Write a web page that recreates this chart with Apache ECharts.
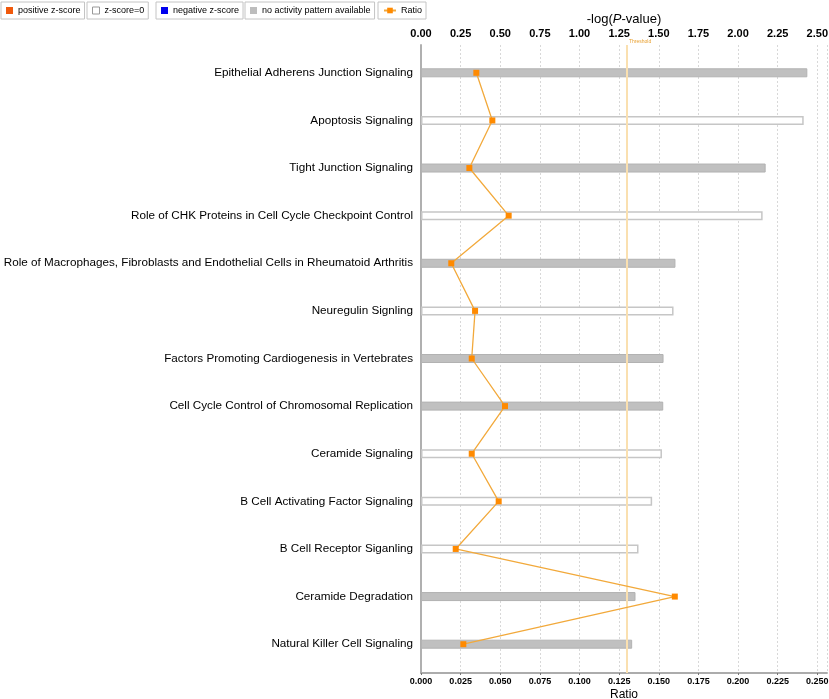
<!DOCTYPE html>
<html>
<head>
<meta charset="utf-8">
<script src="https://cdn.jsdelivr.net/npm/echarts@6/dist/echarts.min.js"></script>
<style>
  html, body { margin: 0; padding: 0; background: #fff; }
  #main { width: 829px; height: 699px; }
</style>
</head>
<body>
<div id="main"></div>
<script>
var myChart = echarts.init(document.getElementById('main'));

// pathways, top to bottom
var categories = [
    'Epithelial Adherens Junction Signaling',
    'Apoptosis Signaling',
    'Tight Junction Signaling',
    'Role of CHK Proteins in Cell Cycle Checkpoint Control',
    'Role of Macrophages, Fibroblasts and Endothelial Cells in Rheumatoid Arthritis',
    'Neuregulin Signling',
    'Factors Promoting Cardiogenesis in Vertebrates',
    'Cell Cycle Control of Chromosomal Replication',
    'Ceramide Signaling',
    'B Cell Activating Factor Signaling',
    'B Cell Receptor Siganling',
    'Ceramide Degradation',
    'Natural Killer Cell Signaling'
];
// -log(p-value)
var logP = [2.437, 2.414, 2.174, 2.155, 1.605, 1.593, 1.530, 1.528, 1.520, 1.458, 1.372, 1.353, 1.332];
// 'none' = no activity pattern available, 'zero' = z-score=0
var zState = ['none', 'zero', 'none', 'zero', 'none', 'zero', 'none', 'none', 'zero', 'zero', 'zero', 'none', 'none'];
var ratio = [0.0349, 0.0450, 0.0305, 0.0553, 0.0191, 0.0341, 0.0320, 0.0530, 0.0320, 0.0490, 0.0219, 0.1601, 0.0267];
var threshold = 1.3;

var logMax = 2.561, ratioMax = 0.2561;
var FONT = 'Liberation Sans';

var zeroData = [], noneData = [];
for (var i = 0; i < logP.length; i++) {
    zeroData.push(zState[i] === 'zero' ? logP[i] : '-');
    noneData.push(zState[i] === 'none' ? logP[i] : '-');
}

function legendBox(name, left, icon, style, extra) {
    var lg = {
        data: [{ name: name, icon: icon, itemStyle: style }],
        left: left,
        top: 2,
        orient: 'horizontal',
        padding: [4, 4, 4, 5],
        itemWidth: 7,
        itemHeight: 7,
        borderColor: '#c4c4c4',
        borderWidth: 1,
        selectedMode: false,
        textStyle: { fontSize: 9, color: '#000', fontFamily: FONT }
    };
    if (extra) { for (var k in extra) lg[k] = extra[k]; }
    return lg;
}

var option = {
    backgroundColor: '#fff',
    animation: false,
    textStyle: { fontFamily: FONT },
    legend: [
        legendBox('positive z-score', 1, 'rect', { color: '#f0590c', borderWidth: 0 }),
        legendBox('z-score=0', 87, 'rect', { color: '#fff', borderColor: '#999', borderWidth: 1 }),
        legendBox('negative z-score', 156, 'rect', { color: '#0000ee', borderWidth: 0 }),
        legendBox('no activity pattern available', 245, 'rect', { color: '#bdbdbd', borderWidth: 0 }),
        legendBox('Ratio', 378, undefined, undefined, { itemWidth: 12, data: ['Ratio'] })
    ],
    grid: [
        { left: 421, right: 2, top: 45, bottom: 26, outerBoundsMode: 'none' },   // frame with the axes
        { left: 421, right: 2, top: 49, bottom: 31, outerBoundsMode: 'none' }    // bars and ratio line
    ],
    xAxis: [
        {
            gridIndex: 0, type: 'value', position: 'top',
            min: 0, max: logMax, interval: 0.25,
            name: '-log({i|P}-value)', nameLocation: 'middle', nameGap: 19, nameMoveOverlap: false,
            nameTextStyle: { fontSize: 13, color: '#000', fontFamily: FONT, rich: { i: { fontStyle: 'italic', fontSize: 13, color: '#000', fontFamily: FONT } } },
            axisLine: { lineStyle: { color: '#9a9a9a', width: 1.5 } },
            axisTick: { inside: true, length: 2, lineStyle: { color: '#777' } },
            axisLabel: {
                fontSize: 11, fontWeight: 'bold', color: '#000', margin: 6, showMaxLabel: false, fontFamily: FONT,
                formatter: function (v) { return v.toFixed(2); }
            },
            splitLine: { show: true, lineStyle: { color: '#d8d8d8', type: [2, 2] } }
        },
        {
            gridIndex: 0, type: 'value', position: 'bottom',
            min: 0, max: ratioMax, interval: 0.025,
            name: 'Ratio', nameLocation: 'middle', nameGap: 16, nameMoveOverlap: false,
            nameTextStyle: { fontSize: 12, color: '#000', fontFamily: FONT },
            axisLine: { lineStyle: { color: '#aaa', width: 1.5 } },
            axisTick: { show: false },
            axisLabel: {
                fontSize: 9, fontWeight: 'bold', color: '#000', margin: 4, showMaxLabel: false, fontFamily: FONT,
                formatter: function (v) { return v.toFixed(3); }
            },
            splitLine: { show: false }
        },
        { gridIndex: 1, type: 'value', min: 0, max: logMax, show: false },
        { gridIndex: 1, type: 'value', min: 0, max: ratioMax, show: false }
    ],
    yAxis: [
        {
            gridIndex: 0, type: 'value', min: 0, max: 1,
            axisLine: { show: true, lineStyle: { color: '#b0b0b0', width: 2 } },
            axisTick: { show: false }, axisLabel: { show: false }, splitLine: { show: false }
        },
        {
            gridIndex: 1, type: 'category', inverse: true, data: categories,
            axisLine: { show: false }, axisTick: { show: false },
            axisLabel: { fontSize: 11.7, color: '#000', margin: 8, fontFamily: FONT }
        }
    ],
    series: [
        {
            name: 'threshold', type: 'line', xAxisIndex: 0, yAxisIndex: 0, data: [],
            markLine: {
                silent: true, symbol: 'none',
                lineStyle: { color: '#fae0b0', width: 2, type: 'solid' },
                label: { position: 'end', formatter: 'Threshold', fontSize: 5, color: '#e8a030', distance: 1, offset: [13, 0] },
                data: [{ xAxis: threshold }]
            }
        },
        { name: 'positive z-score', type: 'bar', xAxisIndex: 2, yAxisIndex: 1, stack: 'p', barWidth: 9, data: [], itemStyle: { color: '#f0590c' } },
        { name: 'negative z-score', type: 'bar', xAxisIndex: 2, yAxisIndex: 1, stack: 'p', barWidth: 9, data: [], itemStyle: { color: '#0000ee' } },
        {
            name: 'z-score=0', type: 'bar', xAxisIndex: 2, yAxisIndex: 1, stack: 'p',
            barWidth: 9, data: zeroData,
            itemStyle: { color: '#fff', borderColor: '#c6c6c6', borderWidth: 1.5 }
        },
        {
            name: 'no activity pattern available', type: 'bar', xAxisIndex: 2, yAxisIndex: 1, stack: 'p',
            barWidth: 9, data: noneData,
            itemStyle: { color: '#c0c0c0', borderColor: '#b2b2b2', borderWidth: 1 }
        },
        {
            name: 'Ratio', type: 'line', xAxisIndex: 3, yAxisIndex: 1, data: ratio,
            symbol: 'rect', symbolSize: 6,
            lineStyle: { color: '#f2a93b', width: 1.3 },
            itemStyle: { color: '#ff8a00' },
            z: 5
        }
    ]
};
myChart.setOption(option);
</script>
</body>
</html>
